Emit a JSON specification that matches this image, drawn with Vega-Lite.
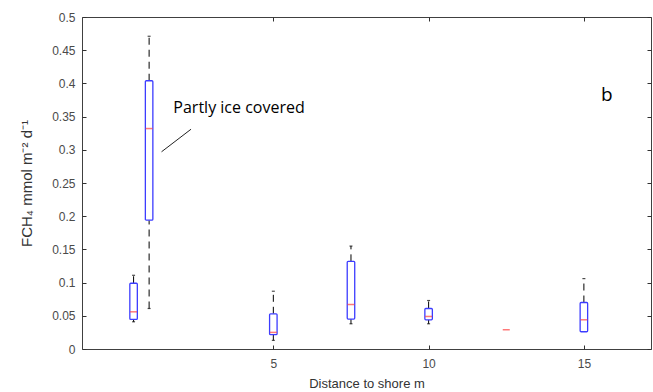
{
  "$schema": "https://vega.github.io/schema/vega-lite/v6.json",
  "autosize": {"type": "none"},
  "padding": {"left": 82, "top": 17, "right": 2, "bottom": 43},
  "width": 569,
  "height": 332,
  "background": "white",
  "config": {
    "view": {"stroke": "#404040", "strokeWidth": 1},
    "axis": {
      "grid": false,
      "domain": false,
      "offset": -4,
      "tickColor": "#303030",
      "tickSize": 4,
      "tickWidth": 1,
      "labelColor": "#4a4a4a",
      "labelFont": "Liberation Sans",
      "labelFontSize": 12,
      "titleFont": "Liberation Sans",
      "titleFontSize": 13,
      "titleFontWeight": "normal",
      "titleColor": "#333333"
    }
  },
  "datasets": {
    "boxes": [
      {"x": 0.5, "lo": 0.041, "q1": 0.0446, "med": 0.056, "q3": 0.099, "hi": 0.111},
      {"x": 1, "lo": 0.061, "q1": 0.194, "med": 0.332, "q3": 0.404, "hi": 0.471},
      {"x": 5, "lo": 0.013, "q1": 0.0215, "med": 0.025, "q3": 0.053, "hi": 0.087},
      {"x": 7.5, "lo": 0.038, "q1": 0.045, "med": 0.067, "q3": 0.132, "hi": 0.155},
      {"x": 10, "lo": 0.038, "q1": 0.044, "med": 0.049, "q3": 0.061, "hi": 0.073},
      {"x": 12.5, "lo": null, "q1": null, "med": 0.029, "q3": null, "hi": null},
      {"x": 15, "lo": null, "q1": 0.026, "med": 0.044, "q3": 0.070, "hi": 0.106}
    ],
    "labels": [
      {"x": 1.78, "y": 0.363, "text": "Partly ice covered", "size": 16},
      {"x": 15.55, "y": 0.382, "text": "b", "size": 19}
    ],
    "leader": [
      {"x": 1.40, "y": 0.297, "x2": 2.35, "y2": 0.331}
    ]
  },
  "encoding": {
    "x": {"field": "x", "type": "quantitative", "axis": null,
      "scale": {"domain": [-1, 17], "nice": false, "zero": false}}
  },
  "layer": [
    {
      "data": {"name": "boxes"},
      "mark": {"type": "rule", "color": "black", "strokeDash": [7, 5], "strokeWidth": 1},
      "encoding": {
        "x": {"field": "x", "type": "quantitative", "title": "Distance to shore m",
          "scale": {"domain": [-1, 17], "nice": false, "zero": false},
          "axis": {"values": [5, 10, 15], "labelPadding": 9, "titlePadding": 8, "orient": "bottom"}},
        "y": {"field": "q3", "type": "quantitative",
          "scale": {"domain": [0, 0.5], "nice": false},
          "title": "FCH₄  mmol m⁻² d⁻¹",
          "axis": {"values": [0, 0.05, 0.1, 0.15, 0.2, 0.25, 0.3, 0.35, 0.4, 0.45, 0.5], "format": "~g", "labelPadding": 7, "titlePadding": 17, "titleFontSize": 15, "orient": "left"}},
        "y2": {"field": "hi"}
      }
    },
    {
      "data": {"name": "boxes"},
      "mark": {"type": "rule", "color": "black", "strokeDash": [7, 5], "strokeWidth": 1},
      "encoding": {
        "y": {"field": "lo", "type": "quantitative", "axis": null},
        "y2": {"field": "q1"}
      }
    },
    {
      "data": {"name": "boxes"},
      "mark": {"type": "tick", "orient": "horizontal", "color": "black", "thickness": 1.2, "size": 3},
      "encoding": {"y": {"field": "hi", "type": "quantitative", "axis": null}}
    },
    {
      "data": {"name": "boxes"},
      "mark": {"type": "tick", "orient": "horizontal", "color": "black", "thickness": 1.2, "size": 3},
      "encoding": {"y": {"field": "lo", "type": "quantitative", "axis": null}}
    },
    {
      "data": {"name": "boxes"},
      "mark": {"type": "bar", "width": 7.5, "fill": "white", "stroke": "#3c3cff", "strokeWidth": 1.3, "cornerRadius": 1},
      "encoding": {
        "y": {"field": "q1", "type": "quantitative", "axis": null},
        "y2": {"field": "q3"}
      }
    },
    {
      "data": {"name": "boxes"},
      "mark": {"type": "tick", "orient": "horizontal", "color": "#ff4040", "thickness": 1.5, "size": 7},
      "encoding": {"y": {"field": "med", "type": "quantitative", "axis": null}}
    },
    {
      "data": {"name": "leader"},
      "mark": {"type": "rule", "color": "#222222", "strokeWidth": 1},
      "encoding": {
        "y": {"field": "y", "type": "quantitative", "axis": null},
        "x2": {"field": "x2"},
        "y2": {"field": "y2"}
      }
    },
    {
      "data": {"name": "labels"},
      "mark": {"type": "text", "align": "left", "baseline": "middle", "font": "Open Sans", "color": "black"},
      "encoding": {
        "y": {"field": "y", "type": "quantitative", "axis": null},
        "text": {"field": "text"},
        "size": {"field": "size", "type": "quantitative", "scale": null, "legend": null}
      }
    },
    {
      "data": {"name": "boxes"},
      "mark": {"type": "point", "opacity": 0},
      "encoding": {
        "x": {"field": "x", "type": "quantitative",
          "axis": {"orient": "top", "values": [5, 10, 15], "labels": false, "title": null}},
        "y": {"field": "med", "type": "quantitative",
          "axis": {"orient": "right", "values": [0, 0.05, 0.1, 0.15, 0.2, 0.25, 0.3, 0.35, 0.4, 0.45, 0.5], "labels": false, "title": null}}
      }
    }
  ],
  "resolve": {"axis": {"x": "independent", "y": "independent"}}
}
